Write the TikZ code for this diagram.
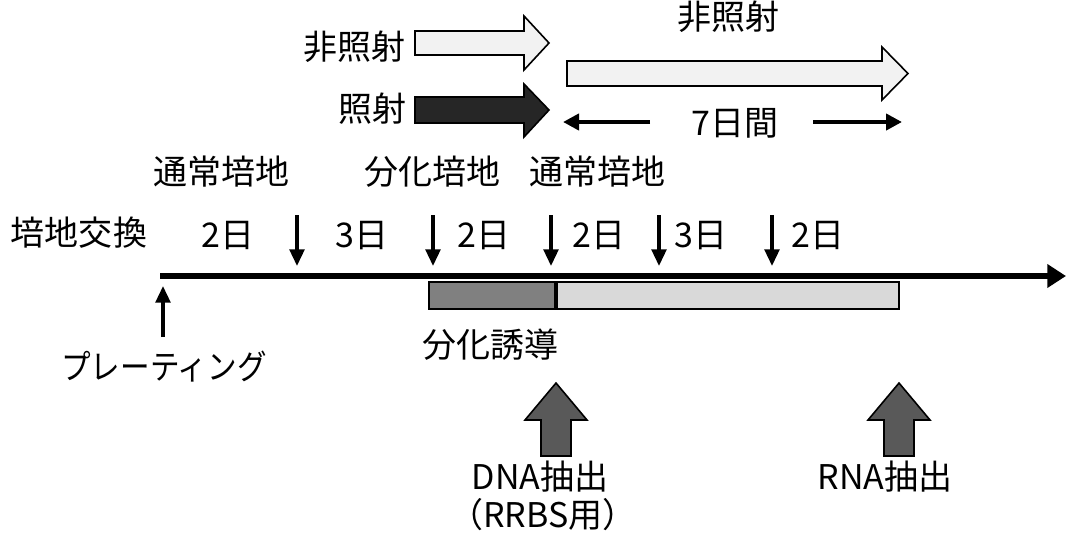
\documentclass[tikz,border=0pt]{standalone}
\usepackage{fontspec}
\setmainfont{Noto Sans CJK JP}
\usetikzlibrary{arrows.meta}
\definecolor{lightfill}{HTML}{F2F2F2}
\definecolor{darkfill}{HTML}{262626}
\definecolor{midfill}{HTML}{595959}
\definecolor{bargray}{HTML}{808080}
\definecolor{barlight}{HTML}{D9D9D9}
\begin{document}
\begin{tikzpicture}[x=0.75pt,y=-0.75pt,
  lbl/.style={font=\fontsize{25.5}{30}\selectfont, inner sep=0pt},
  blockL/.style={draw=black, line width=1.2pt, fill=lightfill, line join=miter},
  blockD/.style={draw=black, line width=1.2pt, fill=darkfill, line join=miter},
  blockM/.style={draw=black, line width=1.2pt, fill=midfill, line join=miter},
  tick/.style={line width=2.6pt, -{Triangle[length=12.5pt,width=11pt]}},
  spanarr/.style={line width=3.7pt, -{Triangle[length=12pt,width=12pt]}},
  mainline/.style={line width=5.2pt, -{Triangle[length=14pt,width=17pt]}}
]
\useasboundingbox (0,0) rectangle (1066,536);

% top block arrows
\draw[blockL] (415,31) -- (524,31) -- (524,16) -- (549,43) -- (524,70) -- (524,55) -- (415,55) -- cycle;
\draw[blockD] (415,97) -- (524,97) -- (524,84) -- (549,110) -- (524,137) -- (524,123) -- (415,123) -- cycle;
\draw[blockL] (567,61) -- (882,61) -- (882,47) -- (908,73.5) -- (882,100) -- (882,86) -- (567,86) -- cycle;

\node[lbl] (nirr1) at (354,47) {非照射};
\node[lbl] (irr) at (372,109) {照射};
\node[lbl] (nirr2) at (728,17) {非照射};
\node[lbl] (days7) at (735,123) {7日間};
\coordinate (s7a) at (650,122);
\coordinate (s7b) at (563,122);
\coordinate (s7c) at (813,122);
\coordinate (s7d) at (902,122);
\draw[spanarr] (s7a) -- (s7b);
\draw[spanarr] (s7c) -- (s7d);

% medium labels
\node[lbl] (m1) at (221,172) {通常培地};
\node[lbl] (m2) at (432,172) {分化培地};
\node[lbl] (m3) at (597,172) {通常培地};
\node[lbl] (ex) at (79,233) {培地交換};

% day labels
\node[lbl] (d1) at (228,236) {2日};
\node[lbl] (d2) at (362,236) {3日};
\node[lbl] (d3) at (484,236) {2日};
\node[lbl] (d4) at (599,236) {2日};
\node[lbl] (d5) at (701,236) {3日};
\node[lbl] (d6) at (818,236) {2日};

% ticks
\foreach \i/\x in {1/297,2/433,3/551,4/659,5/772}{
  \coordinate (t\i a) at (\x,215);
  \coordinate (t\i b) at (\x,266);
  \draw[tick] (t\i a) -- (t\i b);
}

% bars
\draw[line width=1pt, fill=bargray] (429,282) rectangle (556,309);
\draw[line width=1pt, fill=barlight] (556,282) rectangle (899,309);
\draw[line width=2.4pt] (556,282) -- (556,309);

% main timeline
\coordinate (tl0) at (160,276);
\coordinate (tl1) at (1066,276);
\draw[mainline] (tl0) -- (tl1);

% plating
\coordinate (pl0) at (163,337);
\coordinate (pl1) at (163,286);
\draw[tick] (pl0) -- (pl1);
\node[lbl] (plate) at (164,367) {\scalebox{0.87}[1]{プレーティング}};
\node[lbl] (diff) at (490,345) {分化誘導};

% extraction arrows
\draw[blockM] (541,456) -- (541,420) -- (525,420) -- (556,383) -- (587,420) -- (571,420) -- (571,456) -- cycle;
\draw[blockM] (884,456) -- (884,420) -- (868,420) -- (899,383) -- (930,420) -- (914,420) -- (914,456) -- cycle;

\node[lbl] (dna) at (540,477) {DNA抽出};
\node[lbl] (rrbs) at (543,515) {（RRBS用）};
\node[lbl] (rna) at (885,477) {RNA抽出};
\end{tikzpicture}
\end{document}
